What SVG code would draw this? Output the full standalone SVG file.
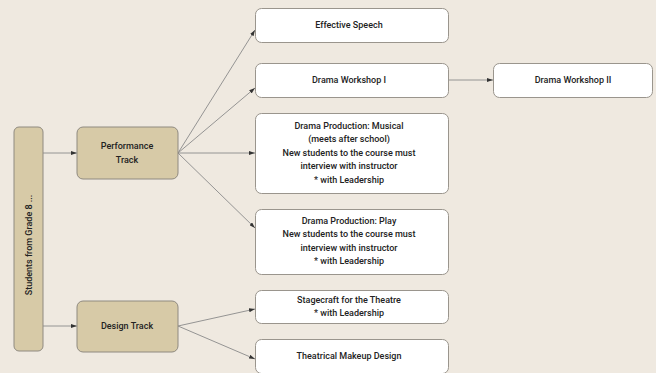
<svg xmlns="http://www.w3.org/2000/svg" width="656" height="373" viewBox="0 0 656 373">
  <defs>
    <marker id="arrow" viewBox="0 0 6 4" refX="6" refY="2" markerWidth="6" markerHeight="4" markerUnits="userSpaceOnUse" orient="auto">
      <path d="M0,0 L6,2 L0,4 z" fill="#333"/>
    </marker>
    <style>
      .bg { fill: #efe9e0; }
      .tan { fill: #d7caa7; stroke: #8f8a80; stroke-width: 1; }
      .card { fill: #ffffff; stroke: #9a958d; stroke-width: 1; }
      .lbl { font-family: Roboto, "Liberation Sans", sans-serif; font-size: 9px; font-weight: 500; fill: #222; text-anchor: middle; dominant-baseline: central; }
      .edge { fill: none; stroke: #8a8a8a; stroke-width: 0.9; marker-end: url(#arrow); }
    </style>
  </defs>

  <rect class="bg" x="0" y="0" width="656" height="373"/>

  <!-- connectors -->
  <g id="connectors">
    <line class="edge" x1="43" y1="153" x2="77" y2="153"/>
    <line class="edge" x1="43" y1="326" x2="77" y2="326"/>
    <line class="edge" x1="178" y1="153" x2="255" y2="30"/>
    <line class="edge" x1="178" y1="153" x2="255" y2="88"/>
    <line class="edge" x1="178" y1="153" x2="255" y2="153"/>
    <line class="edge" x1="178" y1="153" x2="255" y2="228"/>
    <line class="edge" x1="178" y1="326" x2="255" y2="309"/>
    <line class="edge" x1="178" y1="326" x2="255" y2="359"/>
    <line class="edge" x1="448" y1="80" x2="493" y2="80"/>
  </g>

  <!-- source column -->
  <g id="students">
    <rect class="tan" x="14" y="127" width="29" height="224" rx="5"/>
    <text class="lbl" transform="translate(28.5,245) rotate(-90)" x="0" y="0">Students from Grade 8 ...</text>
  </g>

  <!-- tracks -->
  <g id="performance-track">
    <rect class="tan" x="77" y="127" width="101" height="52" rx="6"/>
    <text class="lbl" x="127" y="146">Performance</text>
    <text class="lbl" x="127" y="159.5">Track</text>
  </g>
  <g id="design-track">
    <rect class="tan" x="77" y="301" width="101" height="51" rx="6"/>
    <text class="lbl" x="127" y="326">Design Track</text>
  </g>

  <!-- courses -->
  <g id="effective-speech">
    <rect class="card" x="255.5" y="8.5" width="193" height="34" rx="6"/>
    <text class="lbl" x="349" y="25">Effective Speech</text>
  </g>
  <g id="drama-workshop-1">
    <rect class="card" x="255.5" y="63.5" width="193" height="34" rx="6"/>
    <text class="lbl" x="349" y="80">Drama Workshop I</text>
  </g>
  <g id="drama-workshop-2">
    <rect class="card" x="493.5" y="63.5" width="159" height="34" rx="6"/>
    <text class="lbl" x="573" y="80">Drama Workshop II</text>
  </g>
  <g id="drama-musical">
    <rect class="card" x="255.5" y="113.5" width="193" height="80" rx="6"/>
    <text class="lbl" x="349" y="126">Drama Production: Musical</text>
    <text class="lbl" x="349" y="139.4">(meets after school)</text>
    <text class="lbl" x="349" y="152.8">New students to the course must</text>
    <text class="lbl" x="349" y="166.2">interview with instructor</text>
    <text class="lbl" x="349" y="179.6">* with Leadership</text>
  </g>
  <g id="drama-play">
    <rect class="card" x="255.5" y="209.5" width="193" height="65" rx="6"/>
    <text class="lbl" x="349" y="221">Drama Production: Play</text>
    <text class="lbl" x="349" y="234.4">New students to the course must</text>
    <text class="lbl" x="349" y="247.8">interview with instructor</text>
    <text class="lbl" x="349" y="261.2">* with Leadership</text>
  </g>
  <g id="stagecraft">
    <rect class="card" x="255.5" y="290.5" width="193" height="33" rx="6"/>
    <text class="lbl" x="349" y="299.8">Stagecraft for the Theatre</text>
    <text class="lbl" x="349" y="313.3">* with Leadership</text>
  </g>
  <g id="makeup-design">
    <rect class="card" x="255.5" y="339.5" width="193" height="34" rx="6"/>
    <text class="lbl" x="349" y="356">Theatrical Makeup Design</text>
  </g>
</svg>
